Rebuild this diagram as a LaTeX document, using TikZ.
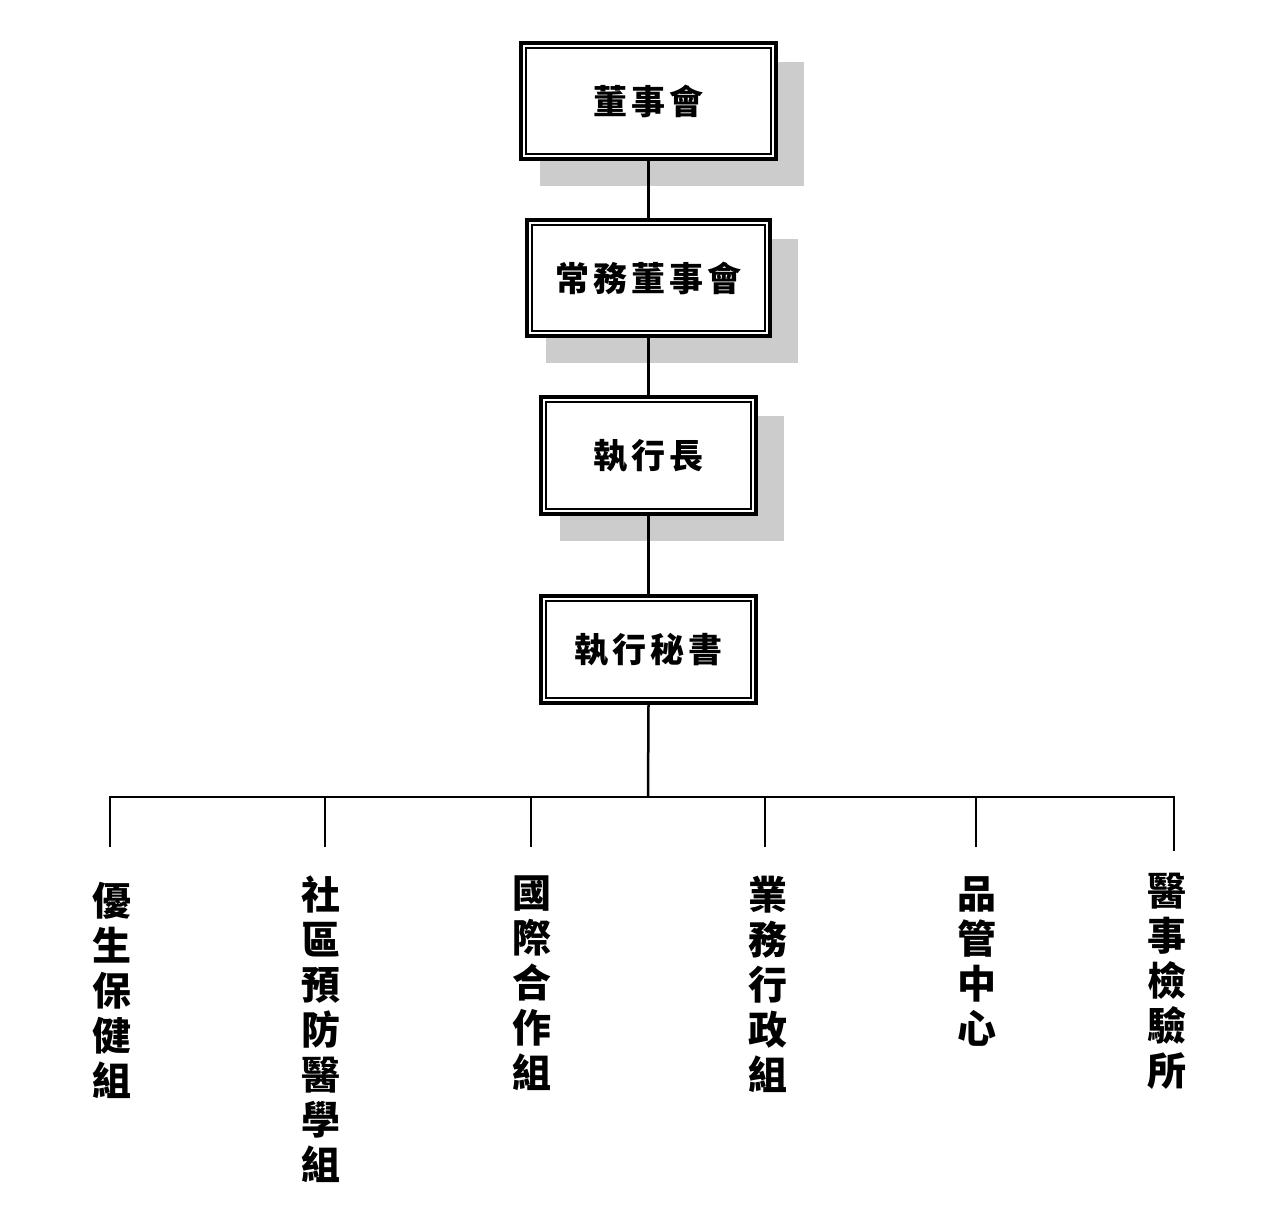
\documentclass[tikz,border=0pt]{standalone}
\usepackage{fontspec}
\newfontfamily\cjk{Noto Sans CJK TC}
\usetikzlibrary{backgrounds}
\definecolor{shadowgray}{RGB}{204,204,204}
\begin{document}
\begin{tikzpicture}[x=1pt,y=-1pt,
  box/.style={draw=black,line width=4pt,fill=white,inner sep=0pt,
    font=\cjk\bfseries\fontsize{34}{38}\selectfont},
  conn/.style={draw=black,line width=2.5pt},
  vlabel/.style={anchor=north,inner sep=0pt,align=center,
    font=\cjk\bfseries\fontsize{39}{45}\selectfont}]
\useasboundingbox (0,0) rectangle (1279,1211);
\newcommand{\innerframe}[1]{\draw[line width=2pt] ([shift={(7,7)}]#1.north west) rectangle ([shift={(-7,-7)}]#1.south east);}
\newcommand{\boxshadow}[1]{\fill[shadowgray] ([shift={(21,21)}]#1.north west) rectangle ([shift={(26,25)}]#1.south east);}

\node[box,minimum width=255pt,minimum height=116pt] (b1) at (648.5,101) {董\kern4pt事\kern4pt會};
\node[box,minimum width=243pt,minimum height=116pt] (b2) at (648.5,278) {常\kern4pt務\kern4pt董\kern4pt事\kern4pt會};
\node[box,minimum width=215pt,minimum height=117pt] (b3) at (648.5,455.5) {執\kern4pt行\kern4pt長};
\node[box,minimum width=215pt,minimum height=107pt] (b4) at (648.5,649.5) {執\kern4pt行\kern4pt秘\kern4pt書};
\innerframe{b1}\innerframe{b2}\innerframe{b3}\innerframe{b4}
\begin{scope}[on background layer]
\fill[white] (0,0) rectangle (1279,1211);
\boxshadow{b1}\boxshadow{b2}\boxshadow{b3}
\end{scope}

\draw[conn] (b1.south) -- (b2.north);
\draw[conn] (b2.south) -- (b3.north);
\draw[conn] (b3.south) -- (b4.north);

\coordinate (bus) at (648,797);
\coordinate (busL) at (110,797);
\coordinate (busR) at (1174,797);
\draw[conn] (b4.south) -- (bus);
\draw[conn,line cap=rect] (busL) -- (busR);

\coordinate (d1) at (110,847);
\coordinate (d2) at (325,847);
\coordinate (d3) at (531,847);
\coordinate (d4) at (765,847);
\coordinate (d5) at (976,847);
\coordinate (d6) at (1174,851);
\draw[conn] (busL) -- (d1);
\draw[conn] (d2 |- bus) -- (d2);
\draw[conn] (d3 |- bus) -- (d3);
\draw[conn] (d4 |- bus) -- (d4);
\draw[conn] (d5 |- bus) -- (d5);
\draw[conn] (busR) -- (d6);

\node[vlabel] (t1) at (112,882) {優\\生\\保\\健\\組};
\node[vlabel] (t2) at (321,876) {社\\區\\預\\防\\醫\\學\\組};
\node[vlabel] (t3) at (532,876) {國\\際\\合\\作\\組};
\node[vlabel] (t4) at (768,876) {業\\務\\行\\政\\組};
\node[vlabel] (t5) at (977,876) {品\\管\\中\\心};
\node[vlabel] (t6) at (1167,873) {醫\\事\\檢\\驗\\所};
\end{tikzpicture}
\end{document}
